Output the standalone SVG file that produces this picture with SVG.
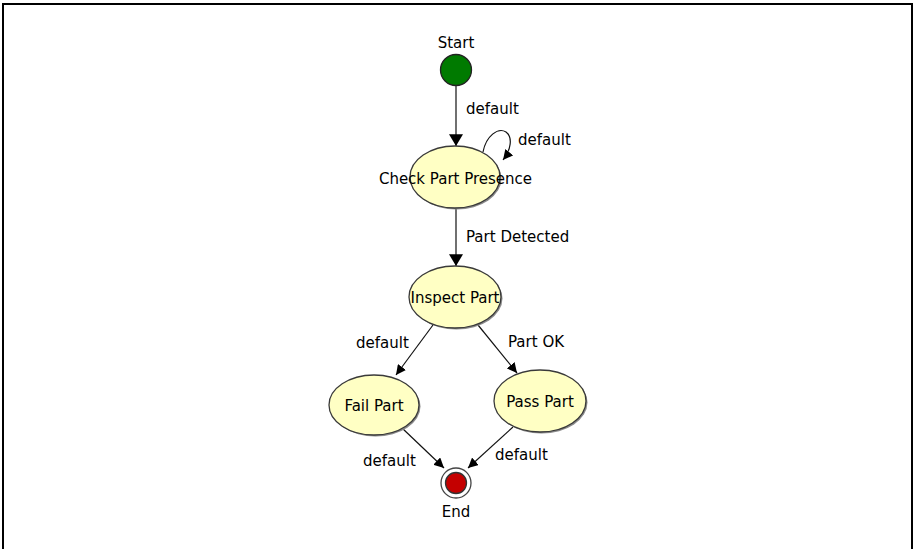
<svg xmlns="http://www.w3.org/2000/svg" width="913" height="549" viewBox="0 0 913 549">
<style>
.lbl{font-family:"DejaVu Sans",Verdana,sans-serif;font-size:15px;fill:#000}
.mid{text-anchor:middle}
.state{fill:#ffffc4;stroke:#3a3a3a;stroke-width:1.3}
.shadow{fill:#8a8a8a}
.edge{fill:none;stroke:#111;stroke-width:1.2}
</style>
<defs>
<marker id="arr" markerUnits="userSpaceOnUse" markerWidth="12" markerHeight="14" viewBox="0 0 10 12" refX="10" refY="6" orient="auto">
<path d="M0,0 L10,6 L0,12 z" fill="#000"/>
</marker>
<marker id="arrs" markerUnits="userSpaceOnUse" markerWidth="10" markerHeight="10" viewBox="0 0 10 10" refX="10" refY="5" orient="auto">
<path d="M0,0 L10,5 L0,10 z" fill="#000"/>
</marker>
</defs>
<rect x="3" y="4" width="909" height="560" fill="#fff" stroke="#000" stroke-width="2"/>
<g id="connectors">
<line class="edge" x1="456" y1="86" x2="456" y2="146" marker-end="url(#arr)"/>
<path class="edge" d="M483,152 C486,136 498,127 506,132 C513,137 511,150 503,160" marker-end="url(#arrs)"/>
<line class="edge" x1="456" y1="208" x2="456" y2="266" marker-end="url(#arr)"/>
<line class="edge" x1="433" y1="325" x2="396" y2="375" marker-end="url(#arrs)"/>
<line class="edge" x1="478" y1="325" x2="517" y2="373" marker-end="url(#arrs)"/>
<line class="edge" x1="402" y1="428" x2="444" y2="468" marker-end="url(#arrs)"/>
<line class="edge" x1="513" y1="427" x2="468" y2="468" marker-end="url(#arrs)"/>
<text class="lbl" x="466" y="114">default</text>
<text class="lbl" x="518" y="145">default</text>
<text class="lbl" x="466" y="242">Part Detected</text>
<text class="lbl" x="356" y="348">default</text>
<text class="lbl" x="508" y="347">Part OK</text>
<text class="lbl" x="363" y="466">default</text>
<text class="lbl" x="495" y="460">default</text>
</g>
<g id="start">
<circle cx="456" cy="70" r="15.5" fill="#007a00" stroke="#222" stroke-width="1.3"/>
<text class="lbl mid" x="456" y="48">Start</text>
</g>
<g id="check">
<ellipse class="shadow" cx="456.5" cy="178.5" rx="45" ry="31"/>
<ellipse class="state" cx="455" cy="177" rx="45" ry="31"/>
<text class="lbl mid" x="455.5" y="184">Check Part Presence</text>
</g>
<g id="inspect">
<ellipse class="shadow" cx="456.5" cy="298.5" rx="46" ry="31"/>
<ellipse class="state" cx="455" cy="297" rx="46" ry="31"/>
<text class="lbl mid" x="455" y="303">Inspect Part</text>
</g>
<g id="fail">
<ellipse class="shadow" cx="375.5" cy="406.5" rx="45" ry="30"/>
<ellipse class="state" cx="374" cy="405" rx="45" ry="30"/>
<text class="lbl mid" x="374" y="411">Fail Part</text>
</g>
<g id="pass">
<ellipse class="shadow" cx="541.5" cy="402.5" rx="46" ry="31"/>
<ellipse class="state" cx="540" cy="401" rx="46" ry="31"/>
<text class="lbl mid" x="540" y="407">Pass Part</text>
</g>
<g id="end">
<circle cx="456" cy="483" r="15" fill="#fff" stroke="#444" stroke-width="1.3"/>
<circle cx="456" cy="483" r="10.5" fill="#c40000" stroke="#333" stroke-width="1.3"/>
<text class="lbl mid" x="456" y="517">End</text>
</g>
</svg>
